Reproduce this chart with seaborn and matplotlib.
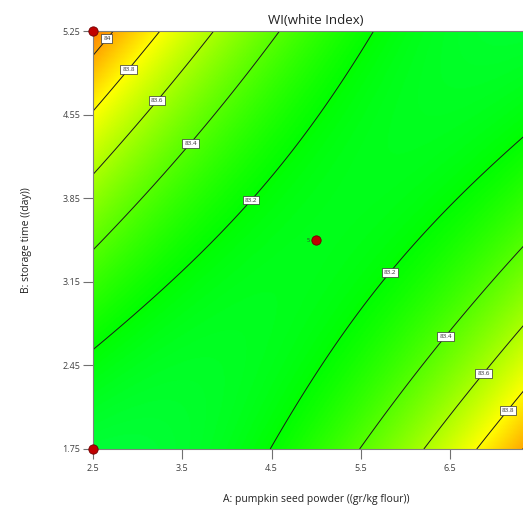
import numpy as np
import pandas as pd
import matplotlib
matplotlib.use("Agg")
import matplotlib.pyplot as plt
from matplotlib.colors import LinearSegmentedColormap
import seaborn as sns

# ---- data ----
title = "WI(white Index)"
x_label = "A: pumpkin seed powder ((gr/kg flour))"
y_label = "B: storage time ((day))"
x_ticks = [2.5, 3.5, 4.5, 5.5, 6.5]
y_ticks = [1.75, 2.45, 3.15, 3.85, 4.55, 5.25]
contour_levels = [83.2, 83.4, 83.6, 83.8, 84.0]

# points (level, A, B)
pt_level = [84.0, 84.0, 84.0,
            83.8, 83.8, 83.8, 83.8, 83.8, 83.8,
            83.6, 83.6, 83.6, 83.6, 83.6, 83.6,
            83.4, 83.4, 83.4, 83.4, 83.4, 83.4, 83.4,
            83.2, 83.2, 83.2, 83.2, 83.2, 83.2, 83.2, 83.2, 83.2, 83.2]
pt_A = [2.50, 2.746, 2.646,
        2.50, 3.273, 2.881, 6.814, 7.32, 7.127,
        2.50, 3.867, 3.206, 6.209, 7.32, 6.859,
        2.50, 4.595, 3.576, 5.503, 7.206, 6.433, 3.251,
        2.50, 5.637, 4.259, 4.506, 7.32, 5.817, 5.155, 4.483, 5.604, 6.052]
pt_B = [5.049, 5.25, 5.19,
        4.572, 5.25, 4.94, 1.75, 2.22, 2.085,
        4.044, 5.25, 4.672, 1.75, 2.77, 2.395,
        3.416, 5.25, 4.321, 1.75, 3.33, 2.705, 4.002,
        2.562, 5.25, 3.843, 1.75, 4.362, 3.232, 4.672, 4.002, 3.023, 3.416]

# contour label anchor points
label_A = [2.646, 2.881, 3.206, 3.576, 4.259, 5.817, 6.433, 6.859, 7.127]
label_B = [5.19, 4.94, 4.672, 4.321, 3.843, 3.232, 2.705, 2.395, 2.085]

# design points
design_A = [2.5, 2.5, 7.5, 7.5, 5.0]
design_B = [1.75, 5.25, 1.75, 5.25, 3.5]
center_reps = "5"

# ---- quadratic response surface fitted to the read contour points ----
a = np.array(pt_A); b = np.array(pt_B); z = np.array(pt_level)
X = np.column_stack([np.ones_like(a), a, b, a * b, a ** 2, b ** 2])
coef, *_ = np.linalg.lstsq(X, z, rcond=None)

def model(A, B):
    return (coef[0] + coef[1] * A + coef[2] * B + coef[3] * A * B
            + coef[4] * A ** 2 + coef[5] * B ** 2)

gA, gB = np.meshgrid(np.linspace(2.5, 7.5, 400), np.linspace(1.75, 5.25, 400))
gZ = model(gA, gB)

# ---- style ----
sns.set_theme(style="white")
plt.rcParams["font.family"] = ["Open Sans", "DejaVu Sans"]

cmap = LinearSegmentedColormap.from_list(
    "de", [(0.0, "#0000ff"), (0.25, "#00ffff"), (0.5, "#00ff00"),
           (0.75, "#ffff00"), (1.0, "#ff0000")])

fig = plt.figure(figsize=(5.23, 5.07), dpi=100)
ax = fig.add_axes([93 / 523, 58 / 507, 446.25 / 523, 418 / 507])

ax.imshow(gZ, origin="lower", extent=[2.5, 7.5, 1.75, 5.25], aspect="auto",
          cmap=cmap, vmin=82.0, vmax=84.4, interpolation="bilinear")
cs = ax.contour(gA, gB, gZ, levels=contour_levels, colors="#1a1a1a", linewidths=0.7)
texts = ax.clabel(cs, fmt=lambda v: f"{v:g}", fontsize=4.5, inline=False,
                  manual=list(zip(label_A, label_B)))
for t in texts:
    t.set_rotation(0)
    t.set_color("#333333")
    t.set_bbox(dict(boxstyle="square,pad=0.3", fc="white", ec="#333333", lw=0.5))

dpts = pd.DataFrame({"A": design_A, "B": design_B})
sns.scatterplot(data=dpts, x="A", y="B", ax=ax, color="#c00000", edgecolor="#700000",
                linewidth=0.6, s=45, zorder=5, clip_on=False, legend=False)
ax.text(4.93, 3.5, center_reps, fontsize=4, ha="right", va="center", color="#333333")

ax.set_xlim(2.5, 7.5)
ax.set_ylim(1.75, 5.25)
ax.set_xticks(x_ticks)
ax.set_yticks(y_ticks)
ax.set_xticklabels([f"{v:g}" for v in x_ticks])
ax.set_yticklabels([f"{v:.2f}" for v in y_ticks])
ax.tick_params(axis="both", which="both", direction="out", length=7, width=0.8,
               color="#707070", labelsize=6.5, labelcolor="#404040",
               left=True, bottom=True)
ax.tick_params(axis="x", pad=4)
ax.tick_params(axis="y", pad=2)
for s in ["left", "bottom", "top", "right"]:
    ax.spines[s].set_color("#808080")
    ax.spines[s].set_linewidth(0.8)

ax.set_title(title, fontsize=9.5, color="#222222", pad=5)
ax.set_xlabel(x_label, fontsize=7.5, color="#222222", labelpad=15)
ax.set_ylabel(y_label, fontsize=7.5, color="#222222", labelpad=22)

fig.savefig("out.png", dpi=100)
